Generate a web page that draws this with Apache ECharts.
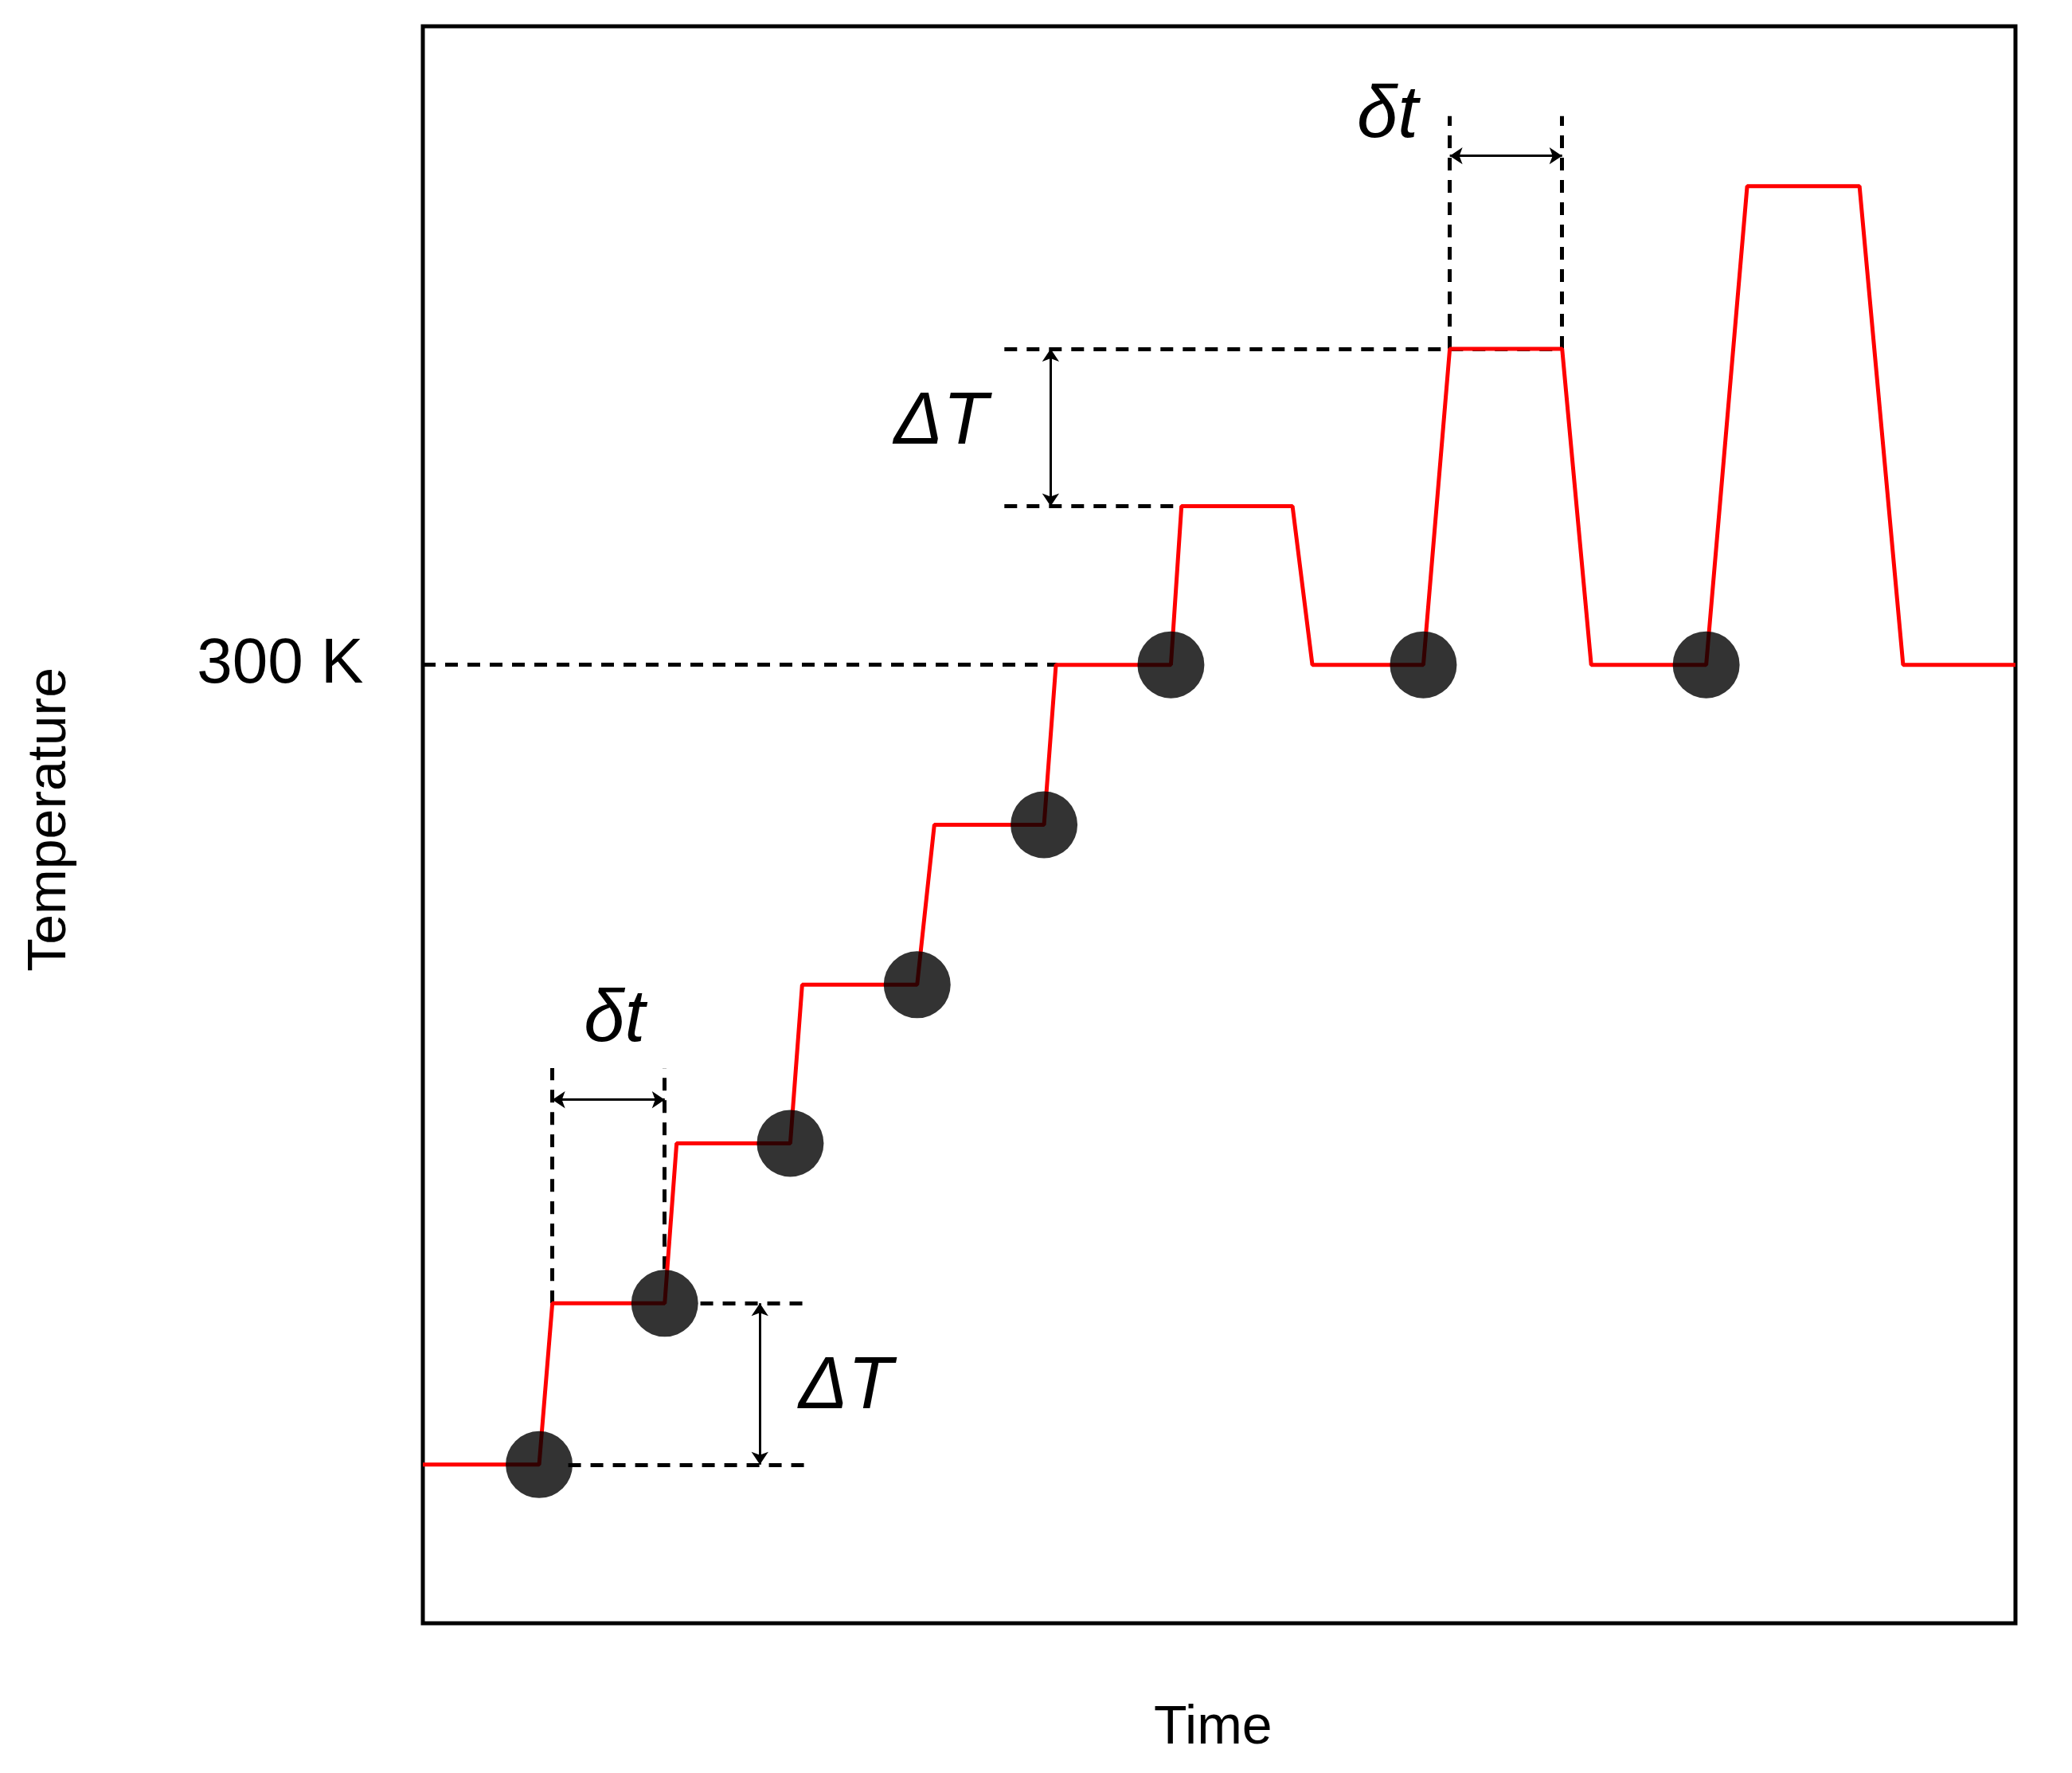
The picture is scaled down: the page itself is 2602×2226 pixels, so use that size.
<!DOCTYPE html>
<html><head><meta charset="utf-8">
<script src="https://cdn.jsdelivr.net/npm/echarts@6/dist/echarts.min.js"></script>
<style>html,body{margin:0;background:#fff}#c{width:2602px;height:2226px}</style>
</head><body><div id="c"></div>
<script>
// Schematic units (time, temperature)
const profileX = [0,88,98,183,192,278,287,374,387,470,479,566,574,658,673,757,777,862,884,971,1002,1087,1120,1205];
const profileY = [120,120,242,242,363,363,483,483,604,604,725,725,845,845,725,725,964,964,725,725,1087,1087,725,725];
const dotX = [88,183,278,374,470,566,757,971,1207];
const dotY = [120,242,363,483,604,725,725,725,725];
const dashedSegs = [
  [[0,725],[480,725]],
  [[110,120],[290,120]],[[210,242],[290,242]],
  [[98,242],[98,420]],[[183,268],[183,420]],
  [[440,845],[574,845]],[[440,964],[862,964]],
  [[777,964],[777,1140]],[[862,964],[862,1140]]
];
const arrowSegs = [
  [[98,396],[183,396]],[[255,242],[255,120]],
  [[777,1110],[862,1110]],[[475,964],[475,845]]
];
const S = 2602/1568;
const chart = echarts.init(document.getElementById('c'));
chart.setOption({
  animation:false,
  grid:{left:531,right:71,top:33,bottom:188,show:true,borderColor:'#000',borderWidth:5,backgroundColor:'transparent'},
  xAxis:{type:'value',min:0,max:1205,show:false},
  yAxis:{type:'value',min:0,max:1208,show:false},
  series:[
    {type:'lines',coordinateSystem:'cartesian2d',polyline:false,silent:true,z:1,
     lineStyle:{color:'#000',width:5,type:[16,12],opacity:1},
     data:dashedSegs.map(c=>({coords:c}))},
    {type:'lines',coordinateSystem:'cartesian2d',silent:true,z:1,symbol:['arrow','arrow'],symbolSize:16,
     lineStyle:{color:'#000',width:3,opacity:1},
     data:arrowSegs.map(c=>({coords:c}))},
    {type:'line',data:profileX.map((x,i)=>[x,profileY[i]]),showSymbol:false,z:2,
     lineStyle:{color:'#ff0000',width:5}},
    {type:'scatter',data:dotX.map((x,i)=>[x,dotY[i]]),symbolSize:84,z:3,
     itemStyle:{color:'#000'}}
  ]
});
const P = (x,y)=>chart.convertToPixel({gridIndex:0},[x,y]);
const it = {fontFamily:'Liberation Sans, Arial',fontStyle:'italic',fontSize:92,fill:'#000'};
const texts = [
  {pos:[275*S,503*S],text:'300 K',align:'right',style:{fontFamily:'Liberation Sans, Arial',fontSize:80,fill:'#000'}},
  {pos:[918*S,1308*S],text:'Time',align:'center',style:{fontFamily:'Liberation Sans, Arial',fontSize:68,fill:'#000'}},
  {pos:[465*S,772*S],text:'δt',align:'center',style:it},
  {pos:[1050*S,88*S],text:'δt',align:'center',style:it},
  {pos:[640*S,1050*S],text:'ΔT',align:'center',style:it},
  {pos:[712*S,320*S],text:'ΔT',align:'center',style:it}
];
const g = texts.map(t=>({type:'text',x:t.pos[0],y:t.pos[1],
  style:Object.assign({},t.style,{text:t.text,textAlign:t.align,textVerticalAlign:'middle'})}));
g.push({type:'text',x:38*S,y:620*S,rotation:Math.PI/2,
  style:{text:'Temperature',fontFamily:'Liberation Sans, Arial',fontSize:68,fill:'#000',textAlign:'center',textVerticalAlign:'middle'}});
chart.setOption({graphic:g});
</script></body></html>
